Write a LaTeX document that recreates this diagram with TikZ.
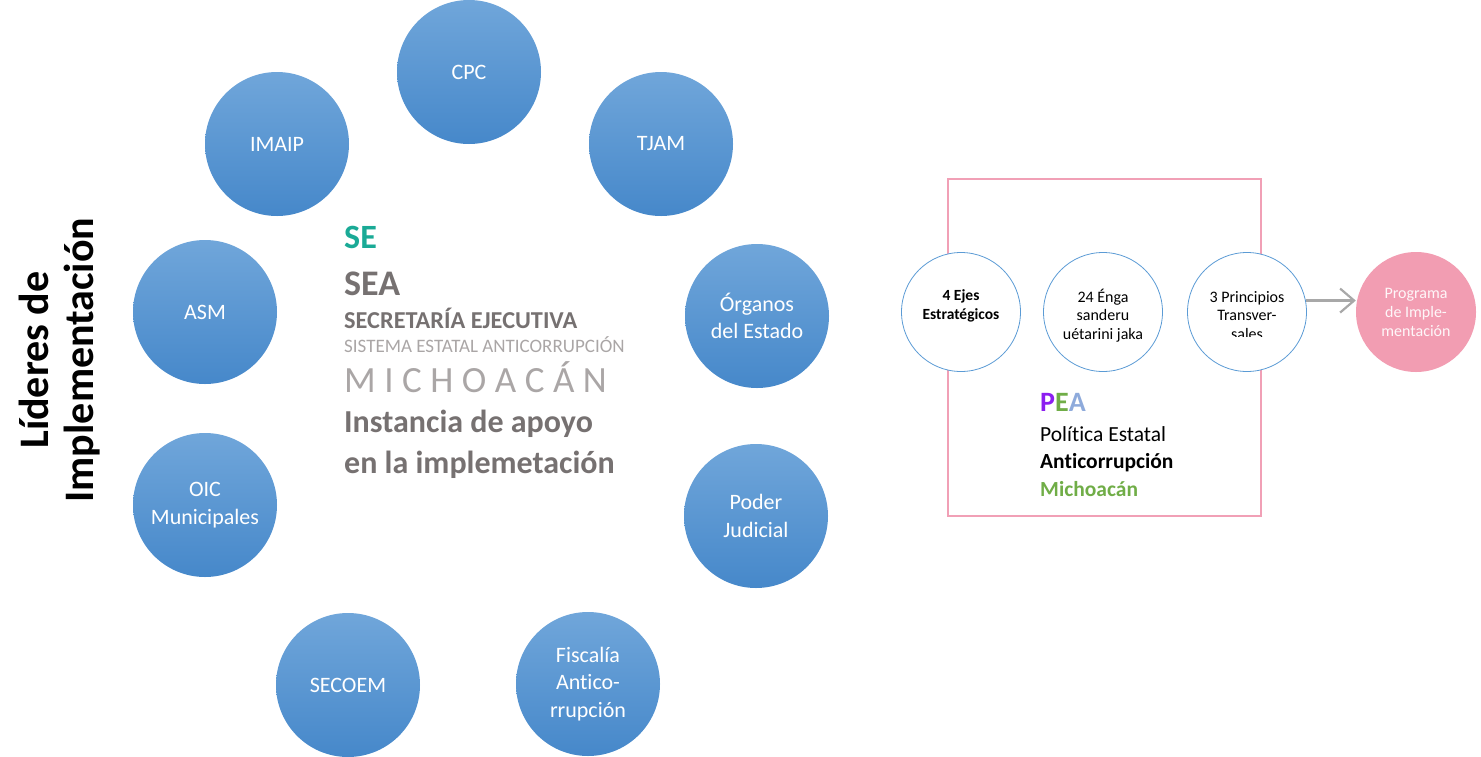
\documentclass[tikz,border=0pt]{standalone}
\usepackage{fontspec}
\setmainfont{Carlito}[Ligatures=NoCommon]
\usetikzlibrary{arrows.meta}
\definecolor{bluetop}{RGB}{112,166,218}
\definecolor{bluebot}{RGB}{70,136,202}
\definecolor{teal}{RGB}{26,170,150}
\definecolor{gtxt}{RGB}{118,113,113}
\definecolor{lgtxt}{RGB}{170,166,166}
\definecolor{pinkbox}{RGB}{241,160,182}
\definecolor{pinkfill}{RGB}{242,157,178}
\definecolor{cblue}{RGB}{91,155,213}
\definecolor{purp}{RGB}{140,30,240}
\definecolor{grn}{RGB}{112,173,71}
\definecolor{lblue}{RGB}{142,170,219}
\definecolor{arrgray}{RGB}{168,168,168}
\tikzset{
  lider/.style={circle, minimum size=144pt, inner sep=0pt, top color=bluetop, bottom color=bluebot, draw=none, text=white, font=\fontsize{22}{27.5}\selectfont, align=center},
  eje/.style={circle, minimum size=119pt, inner sep=0pt, fill=white, draw=cblue, line width=0.8pt},
  ejetxt/.style={inner sep=0pt, align=center, font=\fontsize{16}{18.8}\selectfont},
}
\begin{document}
\begin{tikzpicture}[x=1pt,y=-1pt]
\useasboundingbox (0,0) rectangle (1481,756);
% left title
\node[rotate=90, font=\fontsize{42}{45}\selectfont\bfseries, align=center] (title) at (60,360) {Líderes de\\Implementación};
% blue circles
\node[lider] (cpc) at (469,72) {CPC};
\node[lider] (tjam) at (661,144) {TJAM};
\node[lider] (imaip) at (277,144) {IMAIP};
\node[lider] (asm) at (205,312) {ASM};
\node[lider] (org) at (757,316) {Órganos\\del Estado};
\node[lider] (oic) at (205,505) {OIC\\Municipales};
\node[lider] (pj) at (756,516) {Poder\\Judicial};
\node[lider] (secoem) at (348,685) {SECOEM};
\node[lider] (fisc) at (588,684) {Fiscalía\\Antico-\\rrupción};
% center texts
\node[anchor=base west, inner sep=0, text=teal, font=\fontsize{34}{40}\selectfont\bfseries] (se) at (344,248) {SE};
\node[anchor=base west, inner sep=0, text=gtxt, font=\fontsize{36}{40}\selectfont\bfseries] (sea) at (344,295) {SEA};
\node[anchor=base west, inner sep=0, text=gtxt, font=\fontsize{24.3}{28}\selectfont\bfseries] (secr) at (344,328) {SECRETARÍA EJECUTIVA};
\node[anchor=base west, inner sep=0, text=lgtxt, font=\fontsize{19}{22}\selectfont] (sist) at (344,352) {SISTEMA ESTATAL ANTICORRUPCIÓN};
\node[anchor=base west, inner sep=0, text=lgtxt, font=\fontsize{37}{40}\selectfont] (mich) at (344,392) {M\hspace{8.5pt}I\hspace{8.5pt}C\hspace{8.5pt}H\hspace{8.5pt}O\hspace{8.5pt}A\hspace{8.5pt}C\hspace{8.5pt}Á\hspace{8.5pt}N};
\node[anchor=base west, inner sep=0, text=gtxt, font=\fontsize{32}{38}\selectfont\bfseries] (inst1) at (344,432) {Instancia de apoyo};
\node[anchor=base west, inner sep=0, text=gtxt, font=\fontsize{32}{38}\selectfont\bfseries] (inst2) at (344,473) {en la implemetación};
% PEA box
\draw[pinkbox, line width=1.6pt] (948,179) rectangle (1261,516);
\node[eje] (ejes) at (961,312) {};
\node[ejetxt, font=\fontsize{15.5}{18.8}\selectfont\bfseries] (ejest) at (961,306) {4 Ejes\\Estratégicos};
\node[eje] (enga) at (1103,312) {};
\node[ejetxt] (engat) at (1103,315.5) {24 Énga\\sanderu\\uétarini jaka};
\node[eje] (princ) at (1247,312) {};
\begin{scope}
\clip (1187,250) rectangle (1307,336.5);
\node[ejetxt] (princt) at (1247,315.5) {3 Principios\\Transver-\\sales};
\end{scope}
\node[circle, minimum size=120pt, inner sep=0pt, fill=pinkfill, text=white!92!pinkfill, font=\fontsize{16}{19}\selectfont, align=center] (prog) at (1416,312) {Programa\\de Imple-\\mentación};
\draw[-{Straight Barb[length=14pt,width=24pt]}, draw=arrgray, line width=2.2pt] (princ.11.5) -- (princ.11.5 -| prog.west);
\node[anchor=base west, inner sep=0, font=\fontsize{28}{30}\selectfont\bfseries] (pea) at (1040,411) {\textcolor{purp}{P}\textcolor{grn}{E}\textcolor{lblue}{A}};
\node[anchor=base west, inner sep=0, font=\fontsize{21.5}{24}\selectfont] (pol) at (1040,441) {Política Estatal};
\node[anchor=base west, inner sep=0, font=\fontsize{21.5}{24}\selectfont\bfseries] (anti) at (1040,468) {Anticorrupción};
\node[anchor=base west, inner sep=0, text=grn, font=\fontsize{21.5}{24}\selectfont\bfseries] (mi) at (1040,496) {Michoacán};
\end{tikzpicture}
\end{document}
